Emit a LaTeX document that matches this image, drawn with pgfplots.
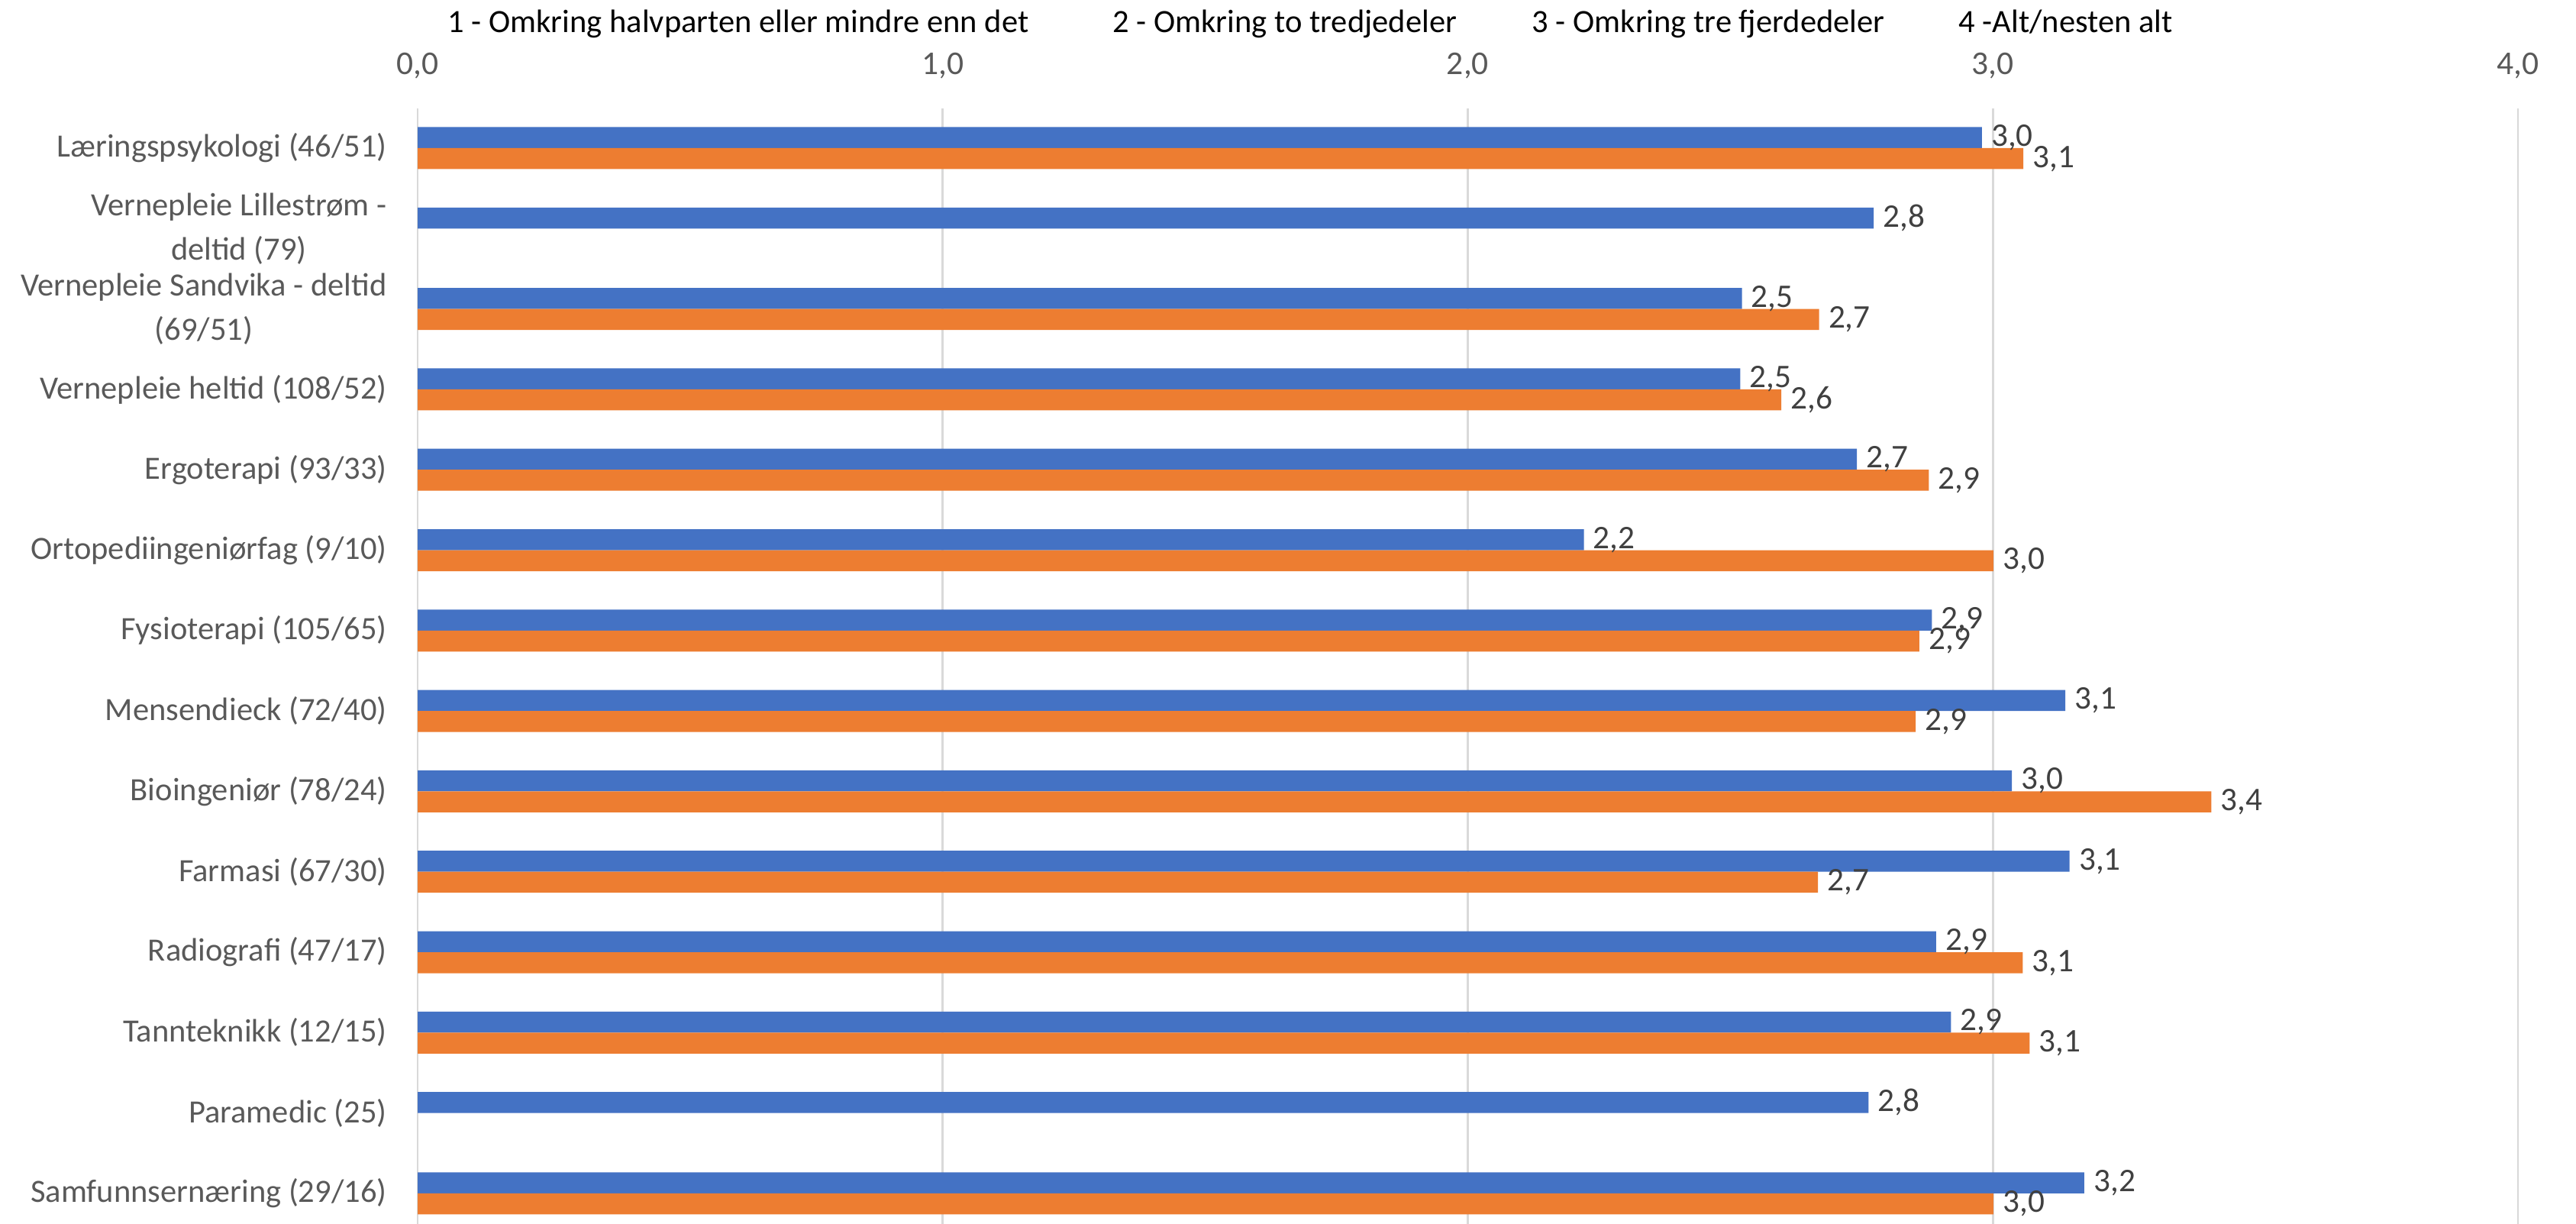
\documentclass[border=0pt]{standalone}
\usepackage{fontspec}
\setmainfont{Carlito}
\usepackage{pgfplots}
\pgfplotsset{compat=1.18}
\definecolor{sblue}{HTML}{4472C4}
\definecolor{sorange}{HTML}{ED7D31}
\definecolor{gridc}{HTML}{D9D9D9}
\definecolor{labc}{HTML}{595959}
\definecolor{numc}{HTML}{404040}
\begin{document}
\begin{tikzpicture}
\useasboundingbox (0,0) rectangle (33.74,16.03);
\begin{axis}[
  at={(5.47cm,0cm)}, anchor=south west,
  scale only axis, width=27.51cm, height=14.61cm,
  xbar, bar width=0.275cm,
  xmin=0, xmax=4, ymin=-0.38, ymax=13.494,
  xtick={0,1,2,3,4},
  xticklabel pos=upper,
  xmajorgrids, major grid style={gridc, line width=0.8pt},
  axis line style={draw=none},
  major tick length=0pt,
  /pgf/number format/.cd, fixed, fixed zerofill, precision=1, use comma, assume math mode=true,
  /pgfplots/.cd,
  xticklabel style={anchor=base, yshift=0.44cm, font=\fontsize{12.4}{14}\selectfont, text=labc},
  ytick={0,...,13},
  yticklabels={Samfunnsernæring (29/16), Paramedic (25), Tannteknikk (12/15), Radiografi (47/17), Farmasi (67/30), Bioingeniør (78/24), Mensendieck (72/40), Fysioterapi (105/65), Ortopediingeniørfag (9/10), Ergoterapi (93/33), Vernepleie heltid (108/52), {Vernepleie Sandvika - deltid\\(69/51)}, {Vernepleie Lillestrøm -\\deltid (79)}, Læringspsykologi (46/51)},
  yticklabel style={align=center, font=\fontsize{12.1}{16.5}\selectfont, text=labc, xshift=-0.28cm},
  nodes near coords,
  every node near coord/.append style={anchor=west, font=\fontsize{12.3}{14}\selectfont, text=numc},
]
\addplot[fill=sblue, draw=none, bar shift=0.1375cm] coordinates {
(2.979,13) (2.773,12) (2.522,11) (2.519,10) (2.741,9) (2.221,8) (2.884,7) (3.138,6) (3.036,5) (3.146,4) (2.892,3) (2.920,2) (2.763,1) (3.174,0)
};
\addplot[fill=sorange, draw=none, bar shift=-0.1375cm] coordinates {
(3.058,13) (2.669,11) (2.597,10) (2.878,9) (3.001,8) (2.860,7) (2.853,6) (3.416,5) (2.667,4) (3.057,3) (3.070,2) (3.001,0)
};
\end{axis}
\begin{scope}[every node/.style={anchor=base west, inner sep=0pt, font=\fontsize{12.1}{14}\selectfont, text=black}]
\node at (5.86,15.60) {1 - Omkring halvparten eller mindre enn det};
\node at (14.57,15.60) {2 - Omkring to tredjedeler};
\node at (20.06,15.60) {3 - Omkring tre fjerdedeler};
\node at (25.65,15.60) {4 -Alt/nesten alt};
\end{scope}
\end{tikzpicture}
\end{document}
